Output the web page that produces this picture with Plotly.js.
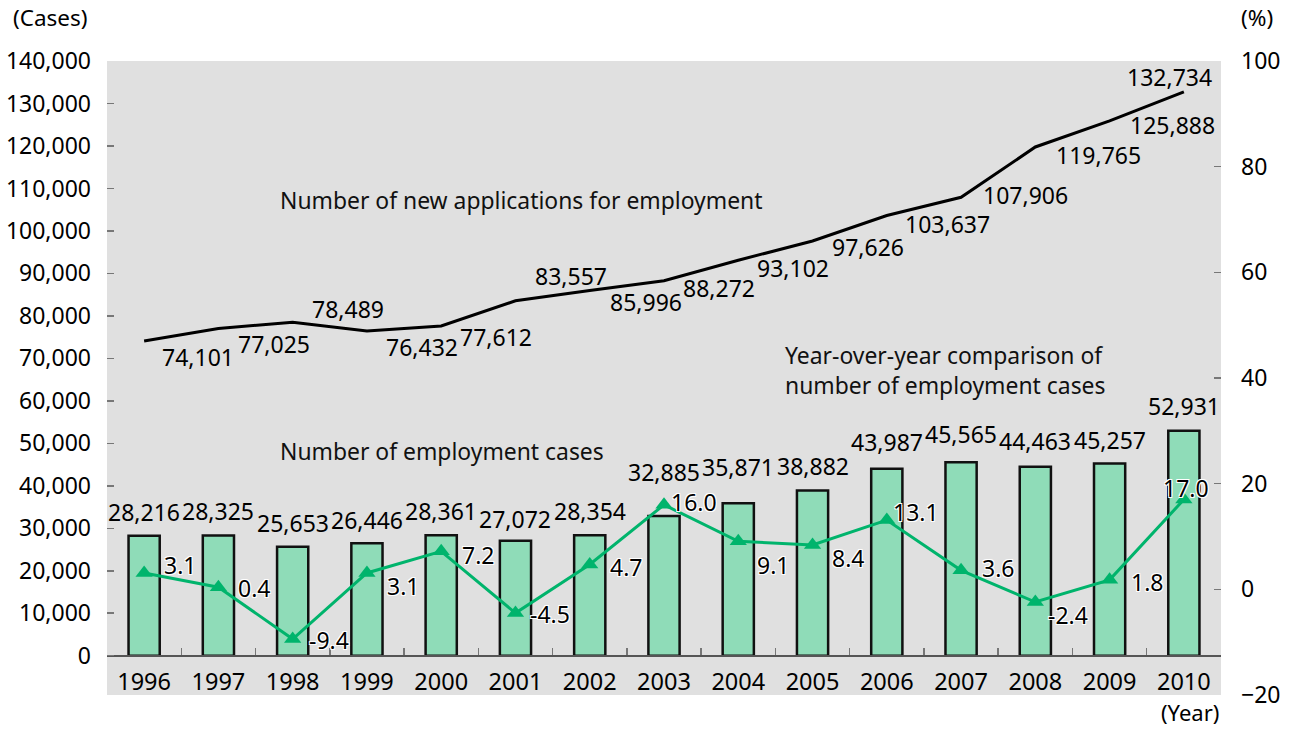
<!DOCTYPE html>
<html>
<head>
<meta charset="utf-8">
<script src="https://cdn.plot.ly/plotly-3.0.1.min.js"></script>
<style>html,body{margin:0;padding:0;background:#fff;}#chart{width:1293px;height:729px;}</style>
</head>
<body>
<div id="chart"></div>
<script>
// ---- data ----
const years = ['1996','1997','1998','1999','2000','2001','2002','2003','2004','2005','2006','2007','2008','2009','2010'];
const employmentCases = [28216,28325,25653,26446,28361,27072,28354,32885,35871,38882,43987,45565,44463,45257,52931];
const newApplications = [74101,77025,78489,76432,77612,83557,85996,88272,93102,97626,103637,107906,119765,125888,132734];
const yoyPercent = [3.1,0.4,-9.4,3.1,7.2,-4.5,4.7,16.0,9.1,8.4,13.1,3.6,-2.4,1.8,17.0];
const leftTicks = [0,10000,20000,30000,40000,50000,60000,70000,80000,90000,100000,110000,120000,130000,140000];
const rightTicks = [-20,0,20,40,60,80,100];

// ---- label placement (pixel offsets from each point) ----
const appDx = [54,56,55,55,55,56,56,55,55,55,61,64,63,63,-14];
const appDy = [16,15,-13,16,11,-25,12,7,8,6,9,-2,8,4,-15];
const pctDx = [36,36,36,36,37,35,36,30,35,35,29,37,33,37,2];
const pctDy = [-8,1,1,13,4,1,2,-3,24,13,-8,-2,13,2,-12];
const barShift = [24,24,24,23,24,22,24,44,36,25,27,28,26,23,25];

const FONT = '"Noto Sans", "DejaVu Sans", sans-serif';
const leftMin = -9250, leftMax = 140000;
const zeroPos = -leftMin / (leftMax - leftMin);

const fmt = v => v.toLocaleString('en-US');

const traces = [
  {
    type: 'bar', x: years, y: employmentCases, yaxis: 'y', width: 0.42,
    marker: {color: '#8fdcb8', line: {color: '#111', width: 2.5}},
    hoverinfo: 'x+y', showlegend: false
  },
  {
    type: 'scatter', mode: 'lines', x: years, y: newApplications, yaxis: 'y',
    line: {color: '#000', width: 3}, showlegend: false
  },
  {
    type: 'scatter', mode: 'lines+markers', x: years, y: yoyPercent, yaxis: 'y2',
    line: {color: '#00b46c', width: 3},
    marker: {symbol: 'triangle-up', size: 15, color: '#00b46c'},
    showlegend: false
  }
];

const NUMSIZE = 23;
const annotations = [];
years.forEach((yr, i) => {
  annotations.push({
    x: i, y: employmentCases[i], xref: 'x', yref: 'y', text: fmt(employmentCases[i]),
    showarrow: false, xanchor: 'center', yanchor: 'middle', yshift: barShift[i],
    font: {family: FONT, size: NUMSIZE, color: '#000'}
  });
  annotations.push({
    x: i, y: newApplications[i], xref: 'x', yref: 'y', text: fmt(newApplications[i]),
    showarrow: false, xanchor: 'center', yanchor: 'middle', xshift: appDx[i], yshift: -appDy[i],
    font: {family: FONT, size: NUMSIZE, color: '#000'}
  });
  annotations.push({
    x: i, y: yoyPercent[i], xref: 'x', yref: 'y2', text: yoyPercent[i].toFixed(1),
    showarrow: false, xanchor: 'center', yanchor: 'middle', xshift: pctDx[i], yshift: -pctDy[i],
    font: {family: FONT, size: NUMSIZE, color: '#000',
      shadow: '1px 1px 0 #fff, -1px -1px 0 #fff, 1px -1px 0 #fff, -1px 1px 0 #fff'}
  });
});

const textFont = {family: FONT, size: 22.9, color: '#111'};
annotations.push(
  {xref: 'paper', yref: 'paper', x: (278-107)/1114, y: (695-201)/634, xanchor: 'left', yanchor: 'middle',
   text: 'Number of new applications for employment', showarrow: false, font: textFont},
  {xref: 'paper', yref: 'paper', x: (783-107)/1114, y: (695-370)/634, xanchor: 'left', yanchor: 'middle', align: 'left',
   text: 'Year-over-year comparison of<br>number of employment cases', showarrow: false, font: textFont},
  {xref: 'paper', yref: 'paper', x: (278-107)/1114, y: (695-452)/634, xanchor: 'left', yanchor: 'middle',
   text: 'Number of employment cases', showarrow: false, font: textFont},
  {xref: 'paper', yref: 'paper', x: (50-107)/1114, y: (695-18)/634, xanchor: 'center', yanchor: 'middle',
   text: '(Cases)', showarrow: false, font: {family: FONT, size: 22.5, color: '#000'}},
  {xref: 'paper', yref: 'paper', x: (1257-107)/1114, y: (695-18)/634, xanchor: 'center', yanchor: 'middle',
   text: '(%)', showarrow: false, font: {family: FONT, size: 22.5, color: '#000'}},
  {xref: 'paper', yref: 'paper', x: (1190-107)/1114, y: (695-712)/634, xanchor: 'center', yanchor: 'middle',
   text: '(Year)', showarrow: false, font: {family: FONT, size: 22, color: '#000'}}
);

const layout = {
  width: 1293, height: 729,
  margin: {l: 107, r: 72, t: 61, b: 34, pad: 0},
  paper_bgcolor: '#fff', plot_bgcolor: '#e0e0e0',
  font: {family: FONT, size: 23, color: '#000'},
  showlegend: false,
  xaxis: {
    type: 'category', categoryorder: 'array', categoryarray: years,
    range: [-0.5, 14.5], anchor: 'free', position: zeroPos,
    showline: true, linecolor: '#555', linewidth: 2,
    ticks: 'inside', tickson: 'boundaries', ticklen: 7, tickcolor: '#777', tickwidth: 1.5,
    showgrid: false, zeroline: false,
    tickfont: {family: FONT, size: 23.5, color: '#000'},
    ticklabelstandoff: 5
  },
  yaxis: {
    range: [leftMin, leftMax], tickvals: leftTicks, tickformat: ',d',
    ticks: 'inside', ticklen: 7, tickcolor: '#777', tickwidth: 1.5,
    showgrid: false, zeroline: false, showline: false,
    tickfont: {family: FONT, size: 23, color: '#000'},
    ticklabelstandoff: 15
  },
  yaxis2: {
    overlaying: 'y', side: 'right', anchor: 'x',
    range: [-20, 100], tickvals: rightTicks,
    ticks: 'inside', ticklen: 7, tickcolor: '#777', tickwidth: 1.5,
    showgrid: false, zeroline: false, showline: false,
    tickfont: {family: FONT, size: 23, color: '#000'},
    ticklabelstandoff: 19
  },
  annotations: annotations
};

Plotly.newPlot('chart', traces, layout, {displayModeBar: false, staticPlot: true});
</script>
</body>
</html>
